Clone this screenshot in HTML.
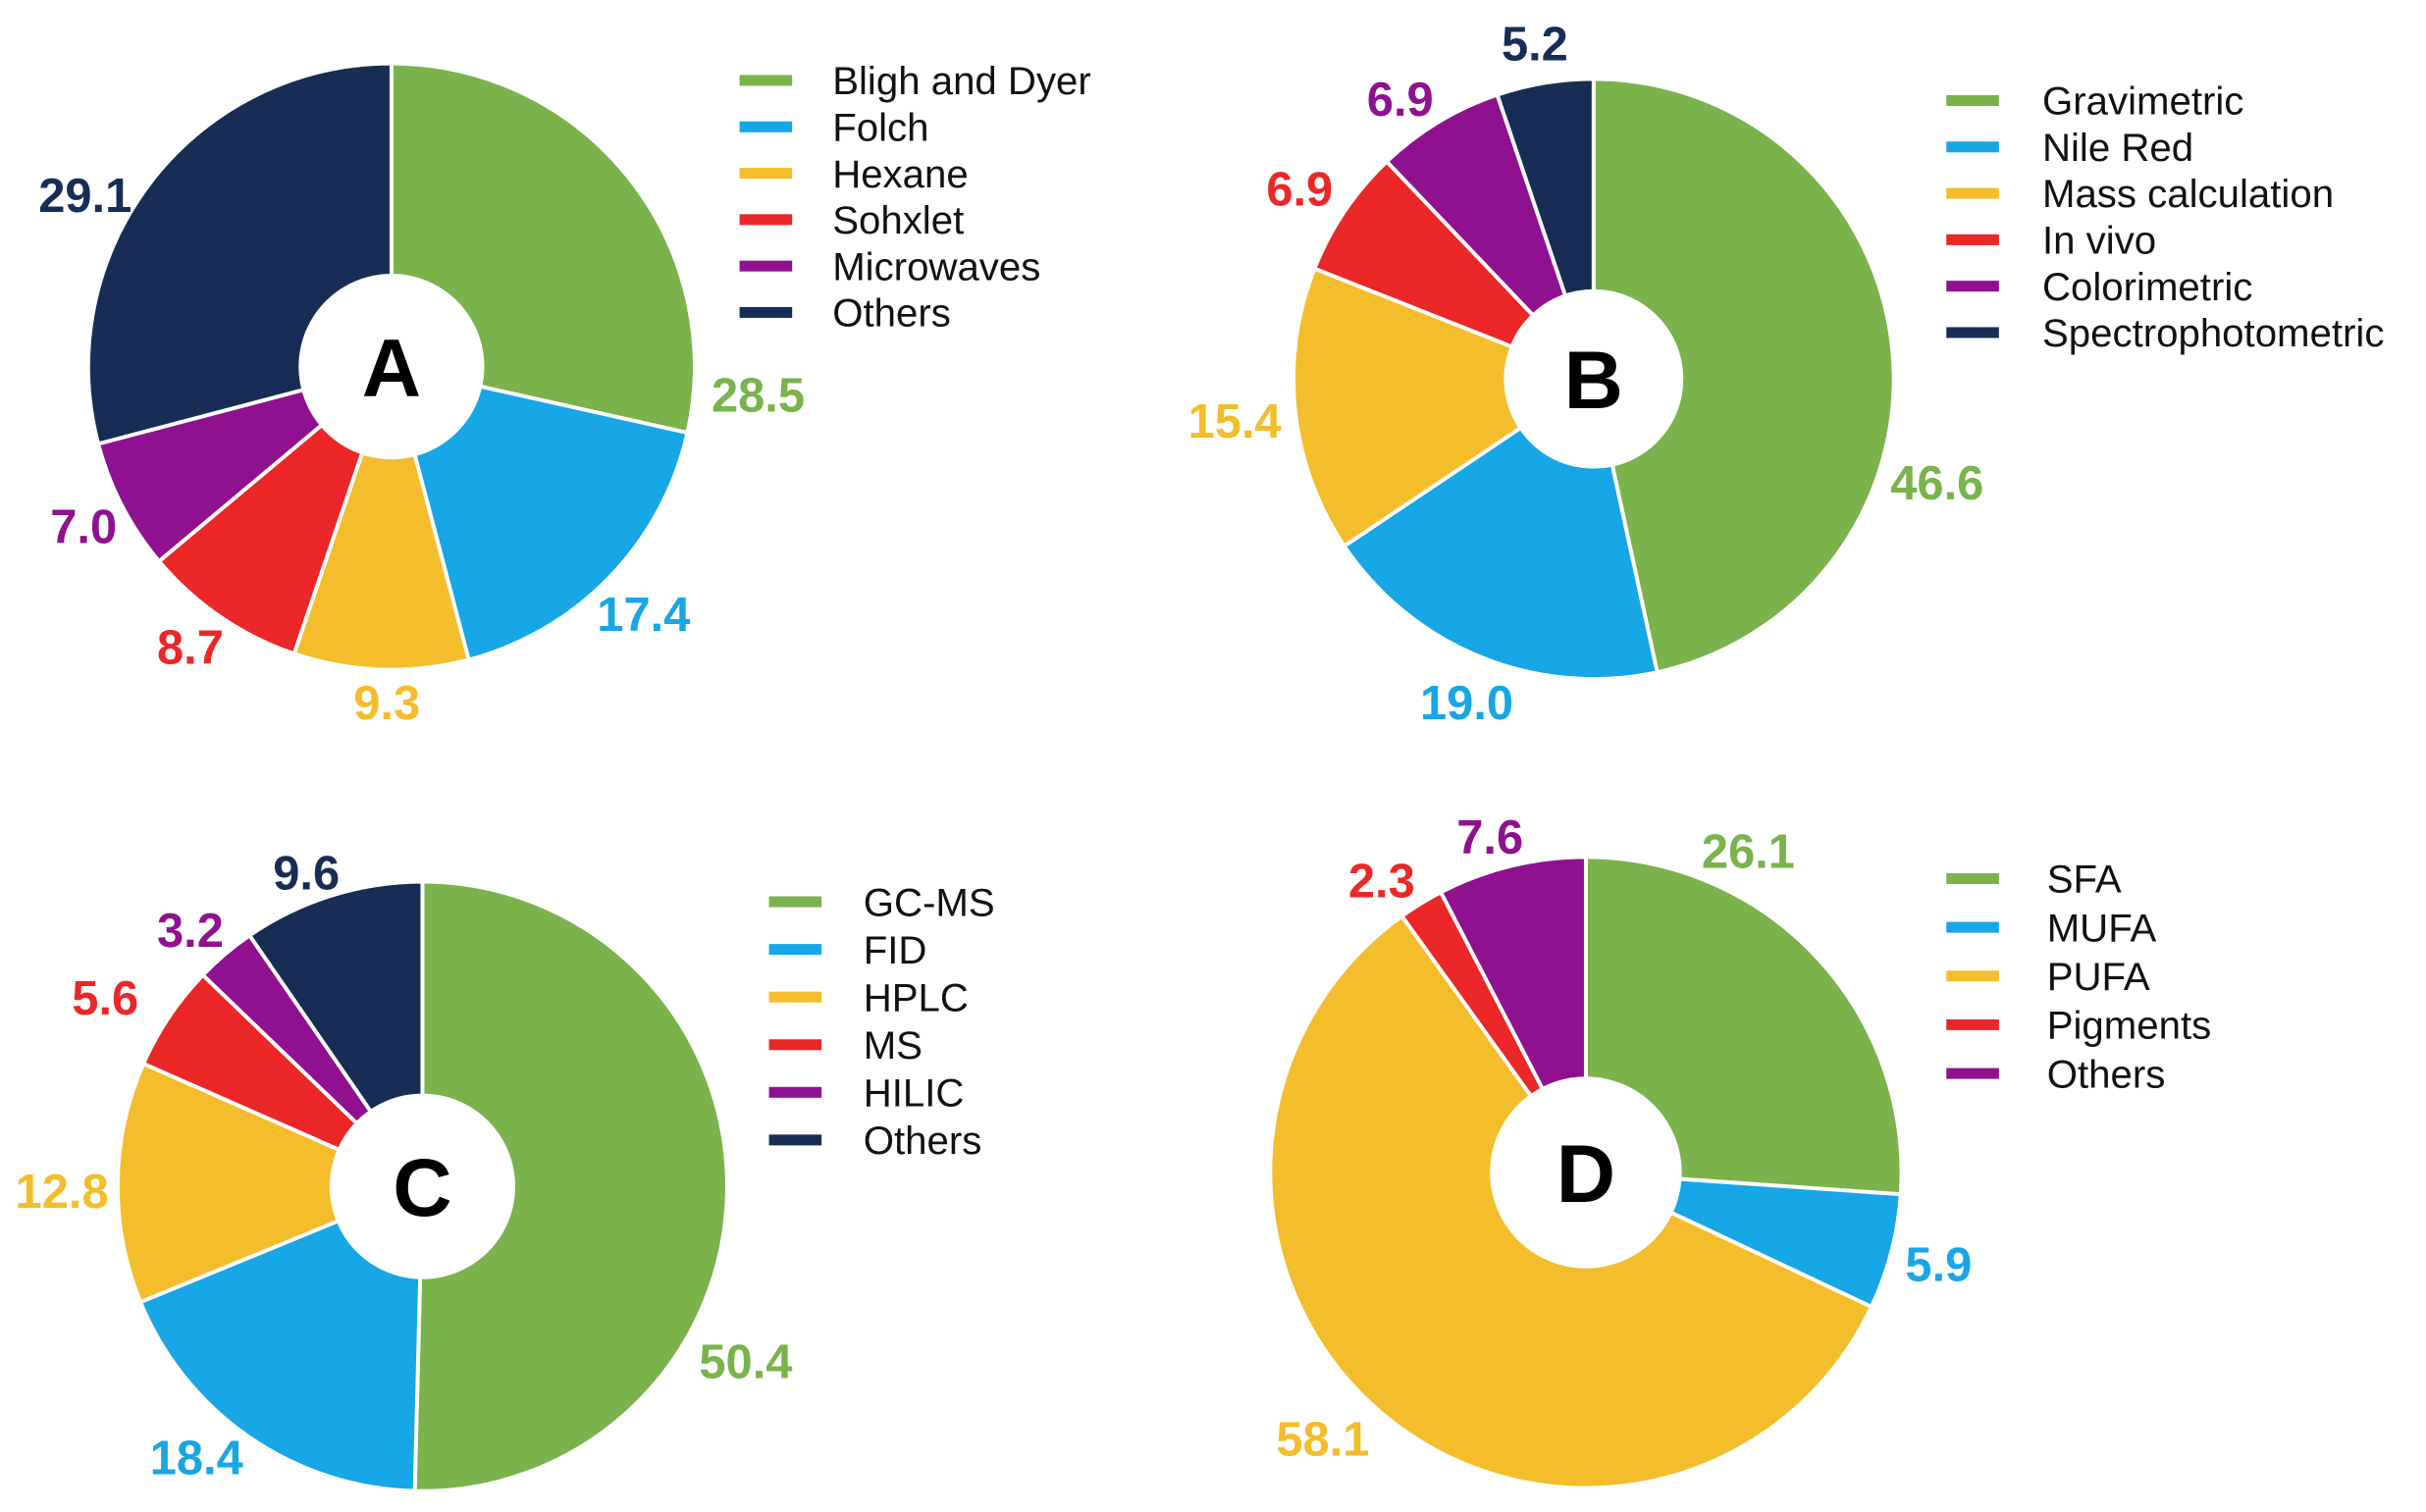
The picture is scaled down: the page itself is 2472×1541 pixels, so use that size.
<!DOCTYPE html>
<html><head><meta charset="utf-8"><style>
html,body{margin:0;padding:0;background:#fff;}
svg{display:block;}
text{font-family:"Liberation Sans",Arial,sans-serif;}
</style></head><body>
<svg id="chart" width="2472" height="1541" viewBox="0 0 1568 977.5" xmlns="http://www.w3.org/2000/svg"></svg>
<script>
const colors = ["#7ab24c","#17a6e6","#f4bd2b","#eb2727","#8f1190","#172d55"];
const catsA = ["Bligh and Dyer","Folch","Hexane","Sohxlet","Microwaves","Others"];
const valsA = [28.5,17.4,9.3,8.7,7.0,29.1];
const catsB = ["Gravimetric","Nile Red","Mass calculation","In vivo","Colorimetric","Spectrophotometric"];
const valsB = [46.6,19.0,15.4,6.9,6.9,5.2];
const catsC = ["GC-MS","FID","HPLC","MS","HILIC","Others"];
const valsC = [50.4,18.4,12.8,5.6,3.2,9.6];
const catsD = ["SFA","MUFA","PUFA","Pigments","Others"];
const valsD = [26.1,5.9,58.1,2.3,7.6];

const NS="http://www.w3.org/2000/svg";
const svg=document.getElementById('chart');
function mk(tag,attrs,parent){const e=document.createElementNS(NS,tag);for(const k in attrs)e.setAttribute(k,attrs[k]);(parent||svg).appendChild(e);return e;}

const panels=[
 {id:"a",letter:"A",cats:catsA,vals:valsA,cx:253,cy:237,r:196,hole:60,
  lab:[[490,255],[416,397],[250,454],[123,418],[54,340],[55,126]],
  leg:{sx:478,tx:538,y0:52,dy:30}},
 {id:"b",letter:"B",cats:catsB,vals:valsB,cx:1030,cy:245,r:194,hole:58,
  lab:[[1252,312],[948,454],[798,272],[840,122],[905,64],[992,28]],
  leg:{sx:1258,tx:1320,y0:65,dy:30}},
 {id:"c",letter:"C",cats:catsC,vals:valsC,cx:273,cy:767,r:197,hole:60,
  lab:[[482,880],[127,942],[40,770],[68,645],[123,601],[198,564]],
  leg:{sx:497,tx:558,y0:583,dy:30.8}},
 {id:"d",letter:"D",cats:catsD,vals:valsD,cx:1025,cy:758,r:204,hole:62,
  lab:[[1130,550],[1253,817],[855,930],[893,569],[963,541]],
  leg:{sx:1258,tx:1323,y0:568,dy:31.5}}
];

function pt(cx,cy,r,f){const a=f*2*Math.PI;return [cx+r*Math.sin(a),cy-r*Math.cos(a)];}

panels.forEach(p=>{
  const g=mk('g',{});
  
  
  const total=p.vals.reduce((s,v)=>s+v,0);
  let acc=0;
  p.vals.forEach((v,i)=>{
    const f0=acc/total, f1=(acc+v)/total; acc+=v;
    const [x0,y0]=pt(p.cx,p.cy,p.r,f0), [x1,y1]=pt(p.cx,p.cy,p.r,f1);
    const large=(f1-f0)>0.5?1:0;
    const s=mk('path',{d:`M${p.cx},${p.cy} L${x0},${y0} A${p.r},${p.r} 0 ${large} 1 ${x1},${y1} Z`,fill:colors[i],stroke:'#fff','stroke-width':2.5,'stroke-linejoin':'round'},g);
    
    
    const t=mk('text',{x:p.lab[i][0],y:p.lab[i][1]+11,'text-anchor':'middle','font-size':31,'font-weight':'bold',fill:colors[i]},g);
    t.textContent=v.toFixed(1);
    
    
  });
  const h=mk('circle',{cx:p.cx,cy:p.cy,r:p.hole,fill:'#fff'},g);
  
  
  const L=mk('text',{x:p.cx,y:p.cy+19,'text-anchor':'middle','font-size':53,'font-weight':'bold',fill:'#000'},g);
  L.textContent=p.letter;
  
  
  const lg=mk('g',{},g);
  
  
  p.cats.forEach((c,i)=>{
    const y=p.leg.y0+i*p.leg.dy;
    const e=mk('g',{},lg);
    
    
    mk('rect',{x:p.leg.sx,y:y-3.5,width:34,height:7,fill:colors[i]},e);
    const t=mk('text',{x:p.leg.tx,y:y+9,'font-size':25.5,fill:'#111'},e);
    t.textContent=c;
  });
});
</script>
</body></html>
